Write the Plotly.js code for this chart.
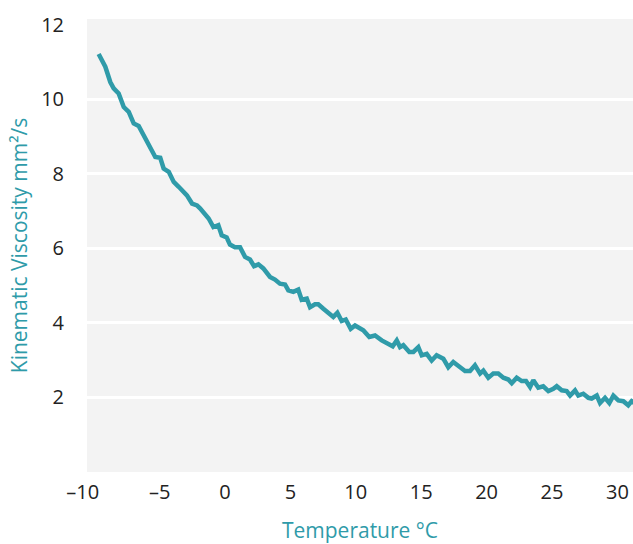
<!DOCTYPE html>
<html>
<head>
<meta charset="utf-8">
<script src="https://cdn.plot.ly/plotly-3.0.1.min.js"></script>
<style>
  html, body { margin: 0; padding: 0; background: #ffffff; }
  #chart { width: 633px; height: 544px; }
</style>
</head>
<body>
<div id="chart"></div>
<script>
// Temperature (°C)
const temperature = [
  -9.66, -9.15, -8.77, -8.51, -8.13, -7.74, -7.36, -6.98, -6.60, -6.22,
  -5.83, -5.33, -4.95, -4.69, -4.30, -3.92, -3.54, -2.91, -2.52, -2.14,
  -1.91, -1.63, -1.25, -0.89, -0.51, -0.25, 0.13, 0.38, 0.76, 1.15,
  1.53, 1.91, 2.22, 2.55, 2.93, 3.44, 3.82, 4.20, 4.59, 4.84,
  5.22, 5.60, 5.86, 6.25, 6.50, 6.88, 7.13, 7.52, 7.90, 8.28,
  8.59, 8.92, 9.23, 9.61, 9.94, 10.57, 11.03, 11.47, 11.98, 12.48,
  12.82, 13.13, 13.38, 13.63, 14.09, 14.40, 14.78, 15.04, 15.42, 15.80,
  16.18, 16.69, 17.07, 17.45, 17.84, 18.35, 18.73, 19.11, 19.50, 19.75,
  20.13, 20.51, 20.89, 21.28, 21.66, 21.92, 22.30, 22.68, 23.01, 23.32,
  23.57, 23.95, 24.33, 24.72, 25.10, 25.36, 25.74, 26.12, 26.38, 26.76,
  27.01, 27.39, 27.78, 28.03, 28.42, 28.67, 29.05, 29.38, 29.69, 30.07,
  30.45, 30.83, 31.09, 31.40
];
// Kinematic viscosity (mm²/s)
const viscosity = [
  11.21, 10.87, 10.46, 10.29, 10.15, 9.79, 9.66, 9.35, 9.28, 9.03,
  8.77, 8.45, 8.43, 8.14, 8.05, 7.78, 7.65, 7.42, 7.20, 7.15,
  7.07, 6.95, 6.80, 6.57, 6.62, 6.35, 6.29, 6.10, 6.03, 6.03,
  5.77, 5.70, 5.52, 5.57, 5.46, 5.23, 5.16, 5.05, 5.03, 4.87,
  4.83, 4.89, 4.62, 4.65, 4.42, 4.50, 4.50, 4.38, 4.26, 4.16,
  4.27, 4.05, 4.09, 3.84, 3.93, 3.80, 3.62, 3.66, 3.53, 3.44,
  3.37, 3.53, 3.35, 3.40, 3.22, 3.22, 3.35, 3.13, 3.17, 2.99,
  3.13, 3.04, 2.81, 2.95, 2.83, 2.71, 2.71, 2.86, 2.64, 2.72,
  2.53, 2.64, 2.64, 2.53, 2.48, 2.38, 2.53, 2.44, 2.44, 2.28,
  2.46, 2.26, 2.30, 2.17, 2.23, 2.30, 2.19, 2.17, 2.05, 2.19,
  2.05, 2.10, 1.99, 1.97, 2.05, 1.85, 1.99, 1.85, 2.05, 1.92,
  1.90, 1.79, 1.90, 1.84
];
const xTicks = [-10, -5, 0, 5, 10, 15, 20, 25, 30];
const xTickLabels = ['\u201310\u2007\u2007', '\u20135', '0', '5', '10', '15', '20', '25', '30'];
const yTicks = [2, 4, 6, 8, 10, 12];
const yGridTicks = [2, 4, 6, 8, 10];

const teal = '#2f9ba9';
const fontFamily = '"Open Sans", "DejaVu Sans", sans-serif';

// empty helper trace so the grid-only overlay axis is drawn
const gridHelper = {
  x: [null],
  y: [null],
  xaxis: 'x',
  yaxis: 'y2',
  type: 'scatter',
  mode: 'lines',
  hoverinfo: 'skip',
  showlegend: false
};

const trace = {
  x: temperature,
  y: viscosity,
  type: 'scatter',
  mode: 'lines',
  line: { color: teal, width: 4.5 },
  hoverinfo: 'x+y'
};

const layout = {
  width: 633,
  height: 544,
  margin: { l: 87, r: 0, t: 19, b: 72, pad: 0 },
  paper_bgcolor: '#ffffff',
  plot_bgcolor: '#f3f3f3',
  showlegend: false,
  font: { family: fontFamily, size: 20, color: '#222222' },
  xaxis: {
    range: [-10.55, 31.19],
    tickvals: xTicks,
    ticktext: xTickLabels,
    showgrid: false,
    zeroline: false,
    showline: false,
    ticks: '',
    ticklabelstandoff: 6,
    tickfont: { family: fontFamily, size: 20, color: '#222222' },
    title: { text: 'Temperature °C', font: { family: fontFamily, size: 21, color: teal }, standoff: 31 }
  },
  yaxis: {
    range: [0, 12.15],
    tickvals: yTicks,
    showgrid: false,
    zeroline: false,
    showline: false,
    ticks: '',
    ticklabelstandoff: 22,
    tickfont: { family: fontFamily, size: 20, color: '#222222' },
    title: { text: 'Kinematic Viscosity mm²/s', font: { family: fontFamily, size: 21, color: teal }, standoff: 7 }
  },
  yaxis2: {
    overlaying: 'y',
    range: [0, 12.15],
    tickvals: yGridTicks,
    showticklabels: false,
    showgrid: true,
    gridcolor: '#ffffff',
    gridwidth: 3,
    zeroline: false,
    showline: false,
    ticks: ''
  }
};

Plotly.newPlot('chart', [gridHelper, trace], layout, { displayModeBar: false, responsive: false });
</script>
</body>
</html>
